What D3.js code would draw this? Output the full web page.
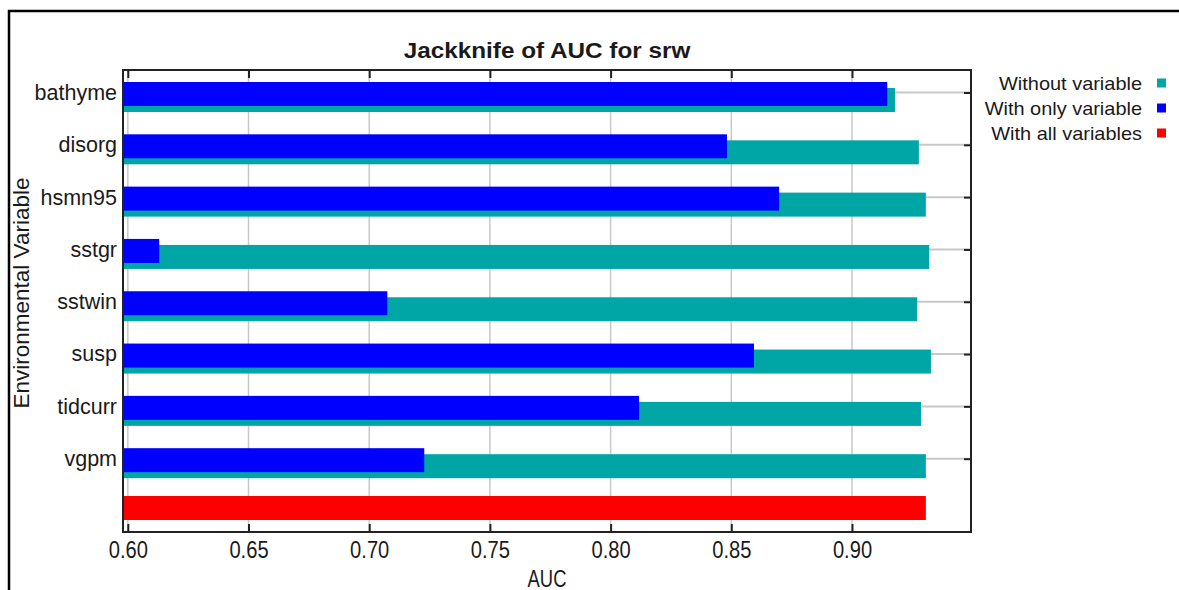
<!DOCTYPE html>
<html>
<head>
<meta charset="utf-8">
<script src="https://cdn.jsdelivr.net/npm/d3@7"></script>
<style>
  body { margin: 0; background: #fff; }
  text { font-family: "Liberation Sans", Arial, sans-serif; fill: #1a1a1a; }
</style>
</head>
<body>
<div id="chart"></div>
<script>
// jackknife results
var variables = ["bathyme", "disorg", "hsmn95", "sstgr", "sstwin", "susp", "tidcurr", "vgpm"];
var withoutVariable = [0.9178, 0.9277, 0.9306, 0.9320, 0.9270, 0.9327, 0.9286, 0.9306];
var withOnlyVariable = [0.9146, 0.8482, 0.8698, 0.6130, 0.7075, 0.8594, 0.8118, 0.7228];
var withAllVariables = 0.9306;
var xTicks = [0.60, 0.65, 0.70, 0.75, 0.80, 0.85, 0.90];
var legendLabels = ["Without variable", "With only variable", "With all variables"];

var teal = "#00a6a6", blue = "#0000ff", red = "#ff0000";
var gridColor = "#c8c8c8";

var width = 1179, height = 590;
var plot = { left: 123, right: 971, top: 70, bottom: 532 };

var svg = d3.select("#chart").append("svg")
    .attr("width", width)
    .attr("height", height);

svg.append("rect").attr("width", width).attr("height", height).attr("fill", "#fff");

// outer frame
svg.append("rect")
    .attr("x", 9).attr("y", 11)
    .attr("width", 1200).attr("height", 620)
    .attr("fill", "none").attr("stroke", "#000").attr("stroke-width", 2.5);

var x = d3.scaleLinear().domain([0.598, 0.9493]).range([plot.left, plot.right]);
var y = d3.scalePoint().domain(variables.concat(["all"])).range([92.5, 511]);

// grid
svg.append("g").selectAll("line")
    .data(xTicks)
    .enter().append("line")
    .attr("x1", function(d) { return x(d); })
    .attr("x2", function(d) { return x(d); })
    .attr("y1", plot.top).attr("y2", plot.bottom)
    .attr("stroke", gridColor).attr("stroke-width", 1.5);

svg.append("g").selectAll("line")
    .data(variables)
    .enter().append("line")
    .attr("x1", plot.left).attr("x2", plot.right)
    .attr("y1", function(d) { return y(d); })
    .attr("y2", function(d) { return y(d); })
    .attr("stroke", gridColor).attr("stroke-width", 2);

// bars
var x0 = x.range()[0];
svg.append("g").selectAll("rect")
    .data(variables)
    .enter().append("rect")
    .attr("x", x0)
    .attr("y", function(d) { return y(d) - 4.5; })
    .attr("width", function(d, i) { return x(withoutVariable[i]) - x0; })
    .attr("height", 24)
    .attr("fill", teal);

svg.append("g").selectAll("rect")
    .data(variables)
    .enter().append("rect")
    .attr("x", x0)
    .attr("y", function(d) { return y(d) - 10.5; })
    .attr("width", function(d, i) { return x(withOnlyVariable[i]) - x0; })
    .attr("height", 24)
    .attr("fill", blue);

svg.append("rect")
    .attr("x", x0)
    .attr("y", y("all") - 15)
    .attr("width", x(withAllVariables) - x0)
    .attr("height", 24)
    .attr("fill", red);

// axes
var bottomAxis = svg.append("g")
    .attr("transform", "translate(0," + plot.bottom + ")")
    .call(d3.axisBottom(x).tickValues(xTicks).tickFormat(d3.format(".2f"))
        .tickSizeInner(-8).tickSizeOuter(0).tickPadding(9));
bottomAxis.selectAll(".tick text")
    .style("font-size", "24px")
    .attr("transform", "scale(0.84,1)");

svg.append("g")
    .attr("transform", "translate(0," + plot.top + ")")
    .call(d3.axisTop(x).tickValues(xTicks).tickFormat("")
        .tickSizeInner(-8).tickSizeOuter(0));

svg.append("g")
    .attr("transform", "translate(" + plot.right + ",0)")
    .call(d3.axisRight(y).tickValues(variables).tickFormat("")
        .tickSizeInner(-7).tickSizeOuter(0));

var leftAxis = svg.append("g")
    .attr("transform", "translate(" + plot.left + ",0)")
    .call(d3.axisLeft(y).tickValues(variables).tickSize(0).tickPadding(6));
leftAxis.selectAll(".tick text").style("font-size", "21.5px");

svg.selectAll(".domain").remove();
svg.selectAll(".tick line").attr("stroke", "#222").attr("stroke-width", 2);

// plot frame
svg.append("rect")
    .attr("x", plot.left).attr("y", plot.top)
    .attr("width", plot.right - plot.left).attr("height", plot.bottom - plot.top)
    .attr("fill", "none").attr("stroke", "#222").attr("stroke-width", 2);

// titles
svg.append("g")
    .attr("transform", "translate(547,58) scale(1.08,1)")
    .append("text")
    .attr("text-anchor", "middle")
    .style("font-size", "22.5px").style("font-weight", "bold")
    .text("Jackknife of AUC for srw");

svg.append("g")
    .attr("transform", "translate(547,587) scale(0.8,1)")
    .append("text")
    .attr("text-anchor", "middle")
    .style("font-size", "23px")
    .text("AUC");

svg.append("text")
    .attr("transform", "translate(29,293) rotate(-90)")
    .attr("text-anchor", "middle")
    .style("font-size", "22.5px")
    .text("Environmental Variable");

// legend
var legend = svg.append("g").selectAll("g")
    .data(legendLabels)
    .enter().append("g")
    .attr("transform", function(d, i) { return "translate(0," + (89.5 + i * 25) + ")"; });

legend.append("g")
    .attr("transform", "translate(1142,0) scale(1.05,1)")
    .append("text")
    .attr("text-anchor", "end")
    .style("font-size", "19px")
    .text(function(d) { return d; });

legend.append("rect")
    .attr("x", 1157).attr("y", -11)
    .attr("width", 9).attr("height", 9)
    .attr("fill", function(d, i) { return [teal, blue, red][i]; });
</script>
</body>
</html>
